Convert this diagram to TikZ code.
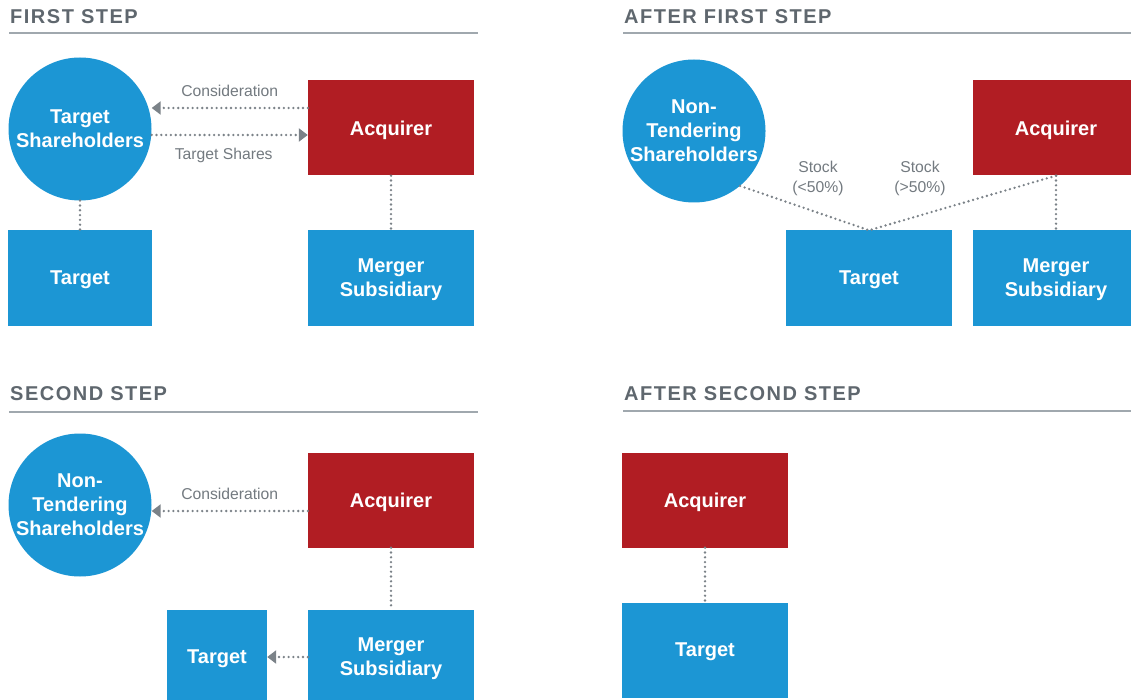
\documentclass[tikz,border=0pt]{standalone}
\usepackage{fontspec}
\setmainfont{Liberation Sans}
\usetikzlibrary{arrows.meta,positioning}
\definecolor{dealblue}{HTML}{1C96D4}
\definecolor{dealred}{HTML}{B11D23}
\definecolor{headgray}{HTML}{5F676E}
\definecolor{rulegray}{HTML}{A0A8AE}
\definecolor{notegray}{HTML}{737A80}
\definecolor{dotgray}{HTML}{7B8288}
\tikzset{
  party/.style={draw=none,fill=dealblue,text=white,align=center,inner sep=0pt,
    text depth=0pt,font=\fontsize{20}{24}\selectfont\bfseries},
  holders/.style={party,circle,minimum size=143pt},
  firm/.style={party,rectangle,minimum width=166pt,minimum height=95pt},
  buyer/.style={firm,fill=dealred},
  heading/.style={anchor=west,inner sep=0pt,text=headgray,
    font=\fontsize{20}{24}\selectfont\bfseries\addfontfeature{LetterSpace=7.5}},
  rulebar/.style={rulegray,line width=2pt},
  link/.style={dotgray,line width=2.6pt,line cap=round,dash pattern=on 0pt off 4.8pt},
  flow/.style={link,-{Triangle[length=9pt,width=13pt]}},
  note/.style={text=notegray,align=center,inner sep=2pt,
    font=\fontsize{15.7}{20}\selectfont}
}

\begin{document}
\begin{tikzpicture}[x=1pt,y=-1pt]
    \path[use as bounding box,fill=white] (0,0) rectangle (1131,700);

    % first step
    \node[heading] (head1) at (10,17) {FIRST STEP};
    \draw[rulebar] (9,33) -- (478,33);
    \node[holders] (holders1) at (80,129) {Target\\Shareholders};
    \node[buyer] (acq1) at (391,128) {Acquirer};
    \node[firm,minimum width=144pt] (tgt1) at (80,278) {Target};
    \node[firm] (sub1) at (391,278) {Merger\\Subsidiary};
    \draw[flow] ([yshift=20pt]acq1.west) -- ([yshift=20pt]acq1.west -| holders1.east)
        node[note,midway,above=8.5pt] (consid1) {Consideration};
    \draw[flow] ([yshift=-7pt]acq1.west -| holders1.east) -- ([yshift=-7pt]acq1.west)
        node[note,midway,below=9.5pt,xshift=-6pt] (shares1) {Target Shares};
    \draw[link] (holders1.south) -- (tgt1.north);
    \draw[link] (acq1.south) -- (sub1.north);

    % after first step
    \node[heading] (head2) at (624,17) {AFTER FIRST STEP};
    \draw[rulebar] (623,33) -- (1131,33);
    \node[holders] (holders2) at (694,131) {Non-\\Tendering\\Shareholders};
    \node[buyer] (acq2) at (1056,128) {Acquirer};
    \node[firm] (tgt2) at (869,278) {Target};
    \node[firm] (sub2) at (1056,278) {Merger\\Subsidiary};
    \draw[link] (holders2.-50) -- (tgt2.north);
    \draw[link] (acq2.south) -- (tgt2.north);
    \draw[link] (acq2.south) -- (sub2.north);
    \node[note] (minority) at (818,178) {Stock\\(<50\%)};
    \node[note] (majority) at (920,178) {Stock\\(>50\%)};

    % second step
    \node[heading] (head3) at (10,394) {SECOND STEP};
    \draw[rulebar] (9,412) -- (478,412);
    \node[holders] (holders3) at (80,505) {Non-\\Tendering\\Shareholders};
    \node[buyer] (acq3) at (391,500) {Acquirer};
    \node[firm] (sub3) at (391,657) {Merger\\Subsidiary};
    \node[firm,minimum width=100pt] (tgt3) at (217,657) {Target};
    \draw[flow] ([yshift=-11pt]acq3.west) -- ([yshift=-11pt]acq3.west -| holders3.east)
        node[note,midway,above=8.5pt] (consid3) {Consideration};
    \draw[link] (acq3.south) -- (sub3.north);
    \draw[flow] (sub3.west) -- (tgt3.east);

    % after second step
    \node[heading] (head4) at (624,394) {AFTER SECOND STEP};
    \draw[rulebar] (623,411) -- (1131,411);
    \node[buyer] (acq4) at (705,500) {Acquirer};
    \node[firm] (tgt4) at (705,650) {Target};
    \draw[link] (acq4.south) -- (tgt4.north);
\end{tikzpicture}
\end{document}
